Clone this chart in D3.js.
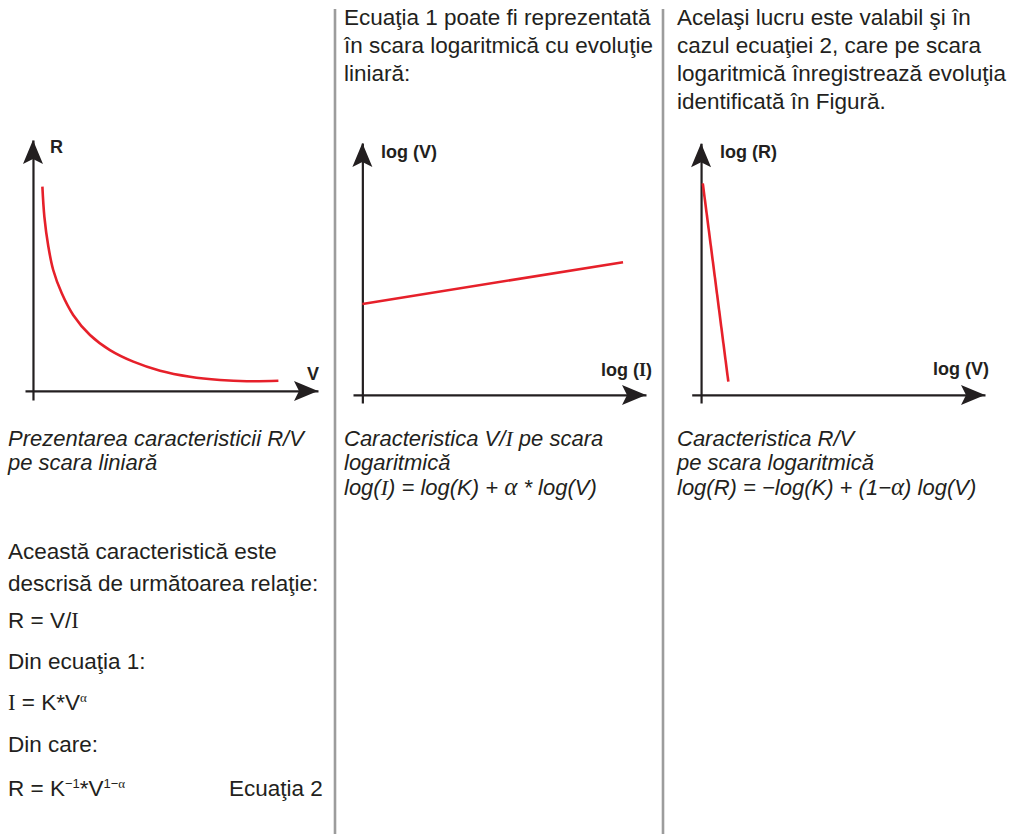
<!DOCTYPE html>
<html><head><meta charset="utf-8">
<script src="https://cdn.jsdelivr.net/npm/d3@7"></script>
<style>
html,body{margin:0;padding:0;background:#fff;}
svg{display:block;}
text{font-family:"Liberation Sans",Arial,sans-serif;fill:#231f20;}
</style></head>
<body>
<svg id="c" width="1018" height="834"></svg>
<script>
// ---------- data ----------
// Panel 1: R vs V on linear scale (units: % of axis length)
const curveV = [3.3, 4.0, 5.4, 7.1, 10.1, 14.1, 20, 27, 35.2, 44.6, 55.1, 65.6, 75, 86.1];
const curveR = [81.4, 69.4, 57.5, 48.2, 38.9, 30.3, 22.3, 16.3, 11.7, 8.1, 5.7, 4.4, 3.9, 4.1];
// Panel 2: log(V) vs log(I)
const p2LogI = [0, 91.9];
const p2LogV = [36.1, 52.7];
// Panel 3: log(R) vs log(V)
const p3LogV = [0.6, 9.6];
const p3LogR = [84.1, 5.3];

const axisLabels1 = ["R", "V"];
const topText2 = ["Ecuaţia 1 poate fi reprezentată", "în scara logaritmică cu evoluţie", "liniară:"];
const topText3 = ["Acelaşi lucru este valabil şi în", "cazul ecuaţiei 2, care pe scara", "logaritmică înregistrează evoluţia", "identificată în Figură."];
const caption1 = ["Prezentarea caracteristicii R/V", "pe scara liniară"];

const svg = d3.select("#c");
const RED = "#e6202a", INK = "#231f20";

// dividers
[335, 663].forEach(x => svg.append("line").attr("x1", x).attr("x2", x).attr("y1", 9).attr("y2", 834)
  .attr("stroke", "#9c9c9c").attr("stroke-width", 2.6));

function panel(p) {
  const x = d3.scaleLinear().domain([p.xmin, 100]).range(p.xr);
  const y = d3.scaleLinear().domain([p.ymin, 100]).range(p.yr);
  const g = svg.append("g");
  const ax = g.append("g").attr("transform", `translate(0,${y(0)})`)
    .call(d3.axisBottom(x).tickValues([]).tickSizeOuter(0));
  const ay = g.append("g").attr("transform", `translate(${x(0)},0)`)
    .call(d3.axisLeft(y).tickValues([]).tickSizeOuter(0));
  [ax, ay].forEach(a => a.select(".domain").attr("stroke", INK).attr("stroke-width", 2.2));
  const L = 24, W = 10, N = 5;
  const tx = x(100), ty = y(0);
  g.append("path").attr("fill", INK)
    .attr("d", `M${tx},${ty} L${tx - L},${ty - W} L${tx - L + N},${ty} L${tx - L},${ty + W} Z`);
  const ux = x(0), uy = y(100);
  g.append("path").attr("fill", INK)
    .attr("d", `M${ux},${uy} L${ux - W},${uy + L} L${ux},${uy + L - N} L${ux + W},${uy + L} Z`);
  return {x, y, g};
}

const AF = 18;
// ---------- Panel 1 ----------
const P1 = panel({xmin: -2.8, xr: [25, 318], ymin: -3.6, yr: [400, 140]});
P1.g.append("path").datum(d3.zip(curveV, curveR))
  .attr("fill", "none").attr("stroke", RED).attr("stroke-width", 2.6)
  .attr("d", d3.line().x(d => P1.x(d[0])).y(d => P1.y(d[1])).curve(d3.curveCatmullRom.alpha(0.5)));
svg.append("text").attr("x", 50).attr("y", 153).attr("font-weight", "bold").attr("font-size", AF).text(axisLabels1[0]);
svg.append("text").attr("x", 307).attr("y", 380).attr("font-weight", "bold").attr("font-size", AF).text(axisLabels1[1]);

// ---------- Panel 2 ----------
const P2 = panel({xmin: -3.3, xr: [353, 646], ymin: -3.2, yr: [403, 143]});
P2.g.append("path").datum(d3.zip(p2LogI, p2LogV))
  .attr("fill", "none").attr("stroke", RED).attr("stroke-width", 2.6)
  .attr("d", d3.line().x(d => P2.x(d[0])).y(d => P2.y(d[1])));
svg.append("text").attr("x", 381).attr("y", 158).attr("font-weight", "bold").attr("font-size", AF).text("log (V)");
{
  const t = svg.append("text").attr("x", 601).attr("y", 376).attr("font-weight", "bold").attr("font-size", AF);
  t.append("tspan").text("log (");
  t.append("tspan").attr("font-family", "'Liberation Serif','Times New Roman',serif").text("I");
  t.append("tspan").text(")");
}

// ---------- Panel 3 ----------
const P3 = panel({xmin: -3.3, xr: [691.7, 985], ymin: -3.2, yr: [403, 143.3]});
P3.g.append("path").datum(d3.zip(p3LogV, p3LogR))
  .attr("fill", "none").attr("stroke", RED).attr("stroke-width", 2.6)
  .attr("d", d3.line().x(d => P3.x(d[0])).y(d => P3.y(d[1])));
svg.append("text").attr("x", 720).attr("y", 158).attr("font-weight", "bold").attr("font-size", AF).text("log (R)");
svg.append("text").attr("x", 933).attr("y", 375).attr("font-weight", "bold").attr("font-size", AF).text("log (V)");

// ---------- Texts ----------
const FS = 22.5, SERIF = "'Liberation Serif','Times New Roman',serif";
topText2.forEach((s, i) => svg.append("text").attr("x", 344).attr("y", 25 + i * 28).attr("font-size", FS).text(s));
topText3.forEach((s, i) => svg.append("text").attr("x", 677).attr("y", 25 + i * 28).attr("font-size", FS).text(s));

caption1.forEach((s, i) => svg.append("text").attr("x", 8).attr("y", 446 + i * 24)
  .attr("font-size", 22).attr("font-style", "italic").text(s));

// caption 2
{
  const cy = [446, 470, 495];
  let t = svg.append("text").attr("x", 344).attr("y", cy[0]).attr("font-size", 22).attr("font-style", "italic");
  t.append("tspan").text("Caracteristica V/");
  t.append("tspan").attr("font-family", SERIF).text("I");
  t.append("tspan").text(" pe scara");
  svg.append("text").attr("x", 344).attr("y", cy[1]).attr("font-size", 22).attr("font-style", "italic").text("logaritmică");
  t = svg.append("text").attr("x", 344).attr("y", cy[2]).attr("font-size", 22).attr("font-style", "italic");
  t.append("tspan").text("log(");
  t.append("tspan").attr("font-family", SERIF).text("I");
  t.append("tspan").text(") = log(K) + ");
  t.append("tspan").attr("font-family", SERIF).attr("font-size", 25).text("α");
  t.append("tspan").text(" * log(V)");
}
// caption 3
{
  const cy = [446, 470, 495];
  svg.append("text").attr("x", 677).attr("y", cy[0]).attr("font-size", 22).attr("font-style", "italic").text("Caracteristica R/V");
  svg.append("text").attr("x", 677).attr("y", cy[1]).attr("font-size", 22).attr("font-style", "italic").text("pe scara logaritmică");
  const t = svg.append("text").attr("x", 677).attr("y", cy[2]).attr("font-size", 22).attr("font-style", "italic");
  t.append("tspan").text("log(R) = −log(K) + (1−");
  t.append("tspan").attr("font-family", SERIF).attr("font-size", 25).text("α");
  t.append("tspan").text(") log(V)");
}
// panel 1 lower text
{
  const ly = [559, 591, 628, 669, 710, 752, 796];
  svg.append("text").attr("x", 8).attr("y", ly[0]).attr("font-size", FS).text("Această caracteristică este");
  svg.append("text").attr("x", 8).attr("y", ly[1]).attr("font-size", FS).text("descrisă de următoarea relaţie:");
  let t = svg.append("text").attr("x", 8).attr("y", ly[2]).attr("font-size", FS);
  t.append("tspan").text("R = V/");
  t.append("tspan").attr("font-family", SERIF).text("I");
  svg.append("text").attr("x", 8).attr("y", ly[3]).attr("font-size", FS).text("Din ecuaţia 1:");
  t = svg.append("text").attr("x", 8).attr("y", ly[4]).attr("font-size", FS);
  t.append("tspan").attr("font-family", SERIF).text("I");
  t.append("tspan").text(" = K*V");
  t.append("tspan").attr("font-family", SERIF).attr("font-size", 13).attr("dy", -8).text("α");
  svg.append("text").attr("x", 8).attr("y", ly[5]).attr("font-size", FS).text("Din care:");
  t = svg.append("text").attr("x", 8).attr("y", ly[6]).attr("font-size", FS);
  t.append("tspan").text("R = K");
  t.append("tspan").attr("font-size", 13).attr("dy", -8).text("−1");
  t.append("tspan").attr("dy", 8).text("*V");
  t.append("tspan").attr("font-size", 13).attr("dy", -8).text("1−");
  t.append("tspan").attr("font-family", SERIF).attr("font-size", 13).text("α");
  svg.append("text").attr("x", 229).attr("y", ly[6]).attr("font-size", FS).text("Ecuaţia 2");
}
</script>
</body></html>
